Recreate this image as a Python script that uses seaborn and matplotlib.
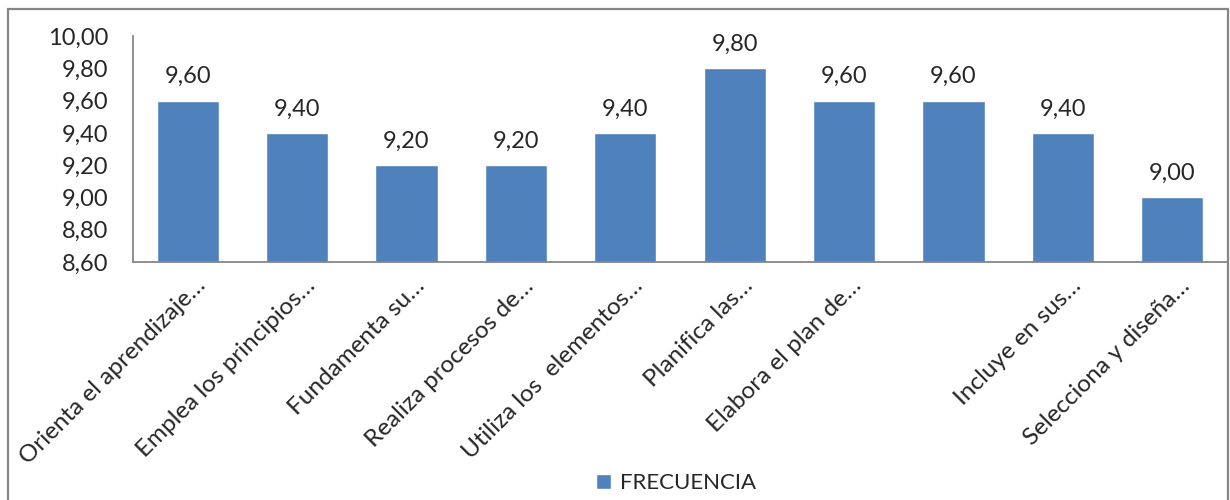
import matplotlib
matplotlib.use("Agg")
import matplotlib.pyplot as plt
from matplotlib.patches import Rectangle
from matplotlib.transforms import ScaledTranslation
import seaborn as sns
import pandas as pd

categories = [
    "Orienta el aprendizaje…",
    "Emplea los principios…",
    "Fundamenta su…",
    "Realiza procesos de…",
    "Utiliza los  elementos…",
    "Planifica las…",
    "Elabora el plan de…",
    "",
    "Incluye en sus…",
    "Selecciona y diseña…",
]
values = [9.60, 9.40, 9.20, 9.20, 9.40, 9.80, 9.60, 9.60, 9.40, 9.00]
y_ticks = [8.60, 8.80, 9.00, 9.20, 9.40, 9.60, 9.80, 10.00]
series_name = "FRECUENCIA"

bar_color = "#4F81BD"
axis_gray = "#868686"


def comma(v):
    return f"{v:.2f}".replace(".", ",")


sns.set_style("white")
plt.rcParams["font.family"] = ["Lato", "DejaVu Sans"]

df = pd.DataFrame({"cat": [f"c{i}" for i in range(len(values))],
                   "val": values})

W, H = 1230, 500
fig = plt.figure(figsize=(W / 100, H / 100), dpi=100)
ax = fig.add_axes([133 / W, 1 - 262 / H, (1227 - 133) / W, (262 - 36) / H])

sns.barplot(data=df, x="cat", y="val", color=bar_color, width=0.57,
            saturation=1, ax=ax)

ax.set_ylim(8.60, 10.00)
ax.set_xlim(-0.5, len(values) - 0.5)
ax.set_yticks(y_ticks)
ax.set_yticklabels([comma(v) for v in y_ticks], fontsize=17)
ax.set_xticks(range(len(categories)))
ax.set_xticklabels(categories, rotation=45, ha="right", va="baseline",
                   rotation_mode="anchor", fontsize=17.5)
ax.tick_params(axis="x", length=0, pad=18)
ax.tick_params(axis="y", length=0, pad=18)
shift = ScaledTranslation(19 / 100, 0, fig.dpi_scale_trans)
for lbl in ax.get_xticklabels():
    lbl.set_transform(lbl.get_transform() + shift)
ax.set_xlabel("")
ax.set_ylabel("")

for s in ["top", "right"]:
    ax.spines[s].set_visible(False)
for s in ["left", "bottom"]:
    ax.spines[s].set_color(axis_gray)
    ax.spines[s].set_linewidth(1.3)

# value labels above each bar
for i, v in enumerate(values):
    ax.annotate(comma(v), xy=(i, v), xytext=(0, 12.5), textcoords="offset points",
                ha="center", va="baseline", fontsize=17)

handle = Rectangle((0, 0), 1, 1, facecolor=bar_color)
fig.legend([handle], [series_name], loc="center",
           bbox_to_anchor=(676 / W, 1 - 483 / H), frameon=False, fontsize=16,
           handlelength=0.65, handleheight=0.65, handletextpad=0.4,
           borderpad=0, borderaxespad=0)

# chart area border
fig.add_artist(Rectangle((8 / W, -0.01), (1228 - 8) / W, 1.01 - 9 / H,
                         transform=fig.transFigure, fill=False,
                         edgecolor=axis_gray, linewidth=1.6))

fig.savefig("out.png", dpi=100)
